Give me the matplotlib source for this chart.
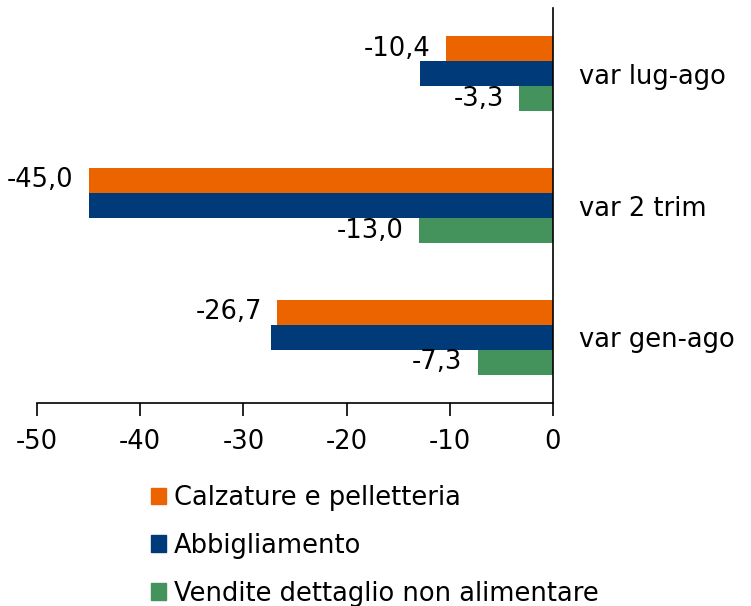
import numpy as np
import matplotlib
matplotlib.use("Agg")
import matplotlib.pyplot as plt
from matplotlib.patches import Patch

categories = ["var lug-ago", "var 2 trim", "var gen-ago"]
series_names = ["Calzature e pelletteria", "Abbigliamento", "Vendite dettaglio non alimentare"]
calzature = [-10.4, -45.0, -26.7]
abbigliamento = [-12.9, -45.0, -27.3]
vendite = [-3.3, -13.0, -7.3]
x_ticks = [-50, -40, -30, -20, -10, 0]

colors = ["#EB6400", "#003A78", "#44925C"]
plt.rcParams['font.family'] = ['DejaVu Sans']
fs = 18.5

fig = plt.figure(figsize=(7.51, 6.06), dpi=100)
ax = fig.add_axes([37 / 751, 1 - 403 / 606, (553 - 37) / 751, (403 - 8) / 606])

y = np.arange(len(categories))
h = 0.19
series = [calzature, abbigliamento, vendite]
bars = []
for i, (vals, col) in enumerate(zip(series, colors)):
    b = ax.barh(y + (i - 1) * h, vals, height=h, color=col, label=series_names[i])
    bars.append(b)

# only the first and last series carry value labels
for i in (0, 2):
    labels = [("%.1f" % v).replace(".", ",") for v in series[i]]
    ax.bar_label(bars[i], labels=labels, padding=11, fontsize=fs)

ax.set_xlim(-50, 0)
ax.set_ylim(2.5, -0.5)
ax.set_xticks(x_ticks)
ax.set_xticklabels([str(t) for t in x_ticks], fontsize=fs)
ax.set_yticks(y)
ax.set_yticklabels(categories, fontsize=fs)
ax.yaxis.tick_right()
ax.tick_params(axis="y", length=0, pad=19)
ax.tick_params(axis="x", direction="out", length=9, width=1.2, pad=10)
ax.spines["top"].set_visible(False)
ax.spines["left"].set_visible(False)
ax.spines["right"].set_linewidth(1.2)
ax.spines["bottom"].set_linewidth(1.2)

handles = [Patch(color=c) for c in colors]
fig.legend(handles, series_names, loc="upper left", bbox_to_anchor=(138 / 751, 1 - 472 / 606),
           frameon=False, fontsize=fs, handlelength=0.6, handleheight=0.6,
           handletextpad=0.3, labelspacing=0.85, borderpad=0)

fig.savefig("out.png", dpi=100)
